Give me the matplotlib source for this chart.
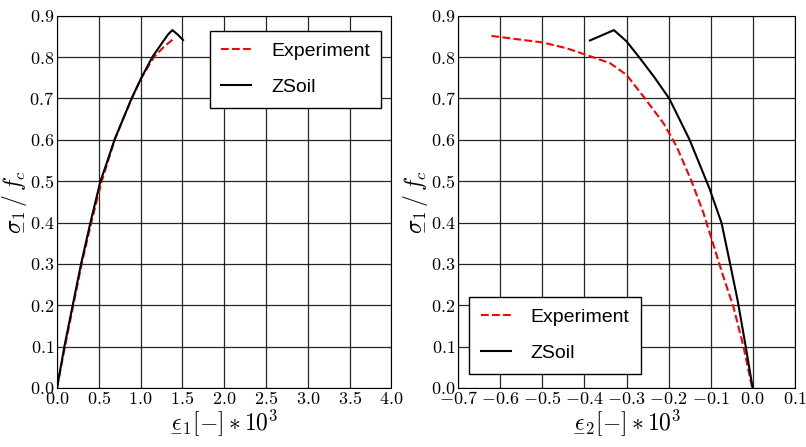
import matplotlib
matplotlib.use("Agg")
import matplotlib.pyplot as plt
from matplotlib.ticker import FuncFormatter, MultipleLocator

plt.rcParams['mathtext.fontset'] = 'cm'
plt.rcParams['font.family'] = ['Liberation Sans', 'DejaVu Sans']

# === Left panel: sigma_1/f_c vs eps_1 ===
exp1_x = [0.0, 0.095, 0.195, 0.295, 0.41, 0.535, 0.69, 0.79, 0.895, 1.01, 1.16, 1.28, 1.40]
exp1_y = [0.0, 0.10, 0.20, 0.30, 0.40, 0.50, 0.60, 0.65, 0.70, 0.75, 0.80, 0.825, 0.845]
zs1_x = [0.0, 0.088, 0.188, 0.288, 0.40, 0.52, 0.58, 0.688, 0.79, 0.892, 1.01, 1.14,
         1.26, 1.33, 1.38, 1.44, 1.508]
zs1_y = [0.0, 0.10, 0.20, 0.30, 0.40, 0.50, 0.535, 0.60, 0.65, 0.70, 0.75, 0.80,
         0.835, 0.855, 0.865, 0.855, 0.841]

# === Right panel: sigma_1/f_c vs eps_2 ===
exp2_x = [-0.621, -0.498, -0.442, -0.395, -0.339, -0.300, -0.260, -0.212, -0.181,
          -0.145, -0.117, -0.097, -0.070, -0.046, -0.022, -0.002]
exp2_y = [0.851, 0.835, 0.821, 0.805, 0.785, 0.757, 0.705, 0.640, 0.584,
          0.499, 0.423, 0.358, 0.270, 0.197, 0.101, 0.004]
zs2_x = [-0.387, -0.330, -0.300, -0.268, -0.233, -0.198, -0.150, -0.103, -0.074,
         -0.054, -0.036, -0.018, 0.0]
zs2_y = [0.840, 0.865, 0.838, 0.797, 0.750, 0.699, 0.600, 0.483, 0.399,
         0.302, 0.213, 0.109, 0.0]

fig = plt.figure(figsize=(8.06, 4.47), dpi=100)
ax1 = fig.add_axes([0.0707, 0.132, 0.415, 0.833])
ax2 = fig.add_axes([0.5686, 0.132, 0.4174, 0.833])

fmt = FuncFormatter(lambda v, p: r'$%.1f$' % v if abs(v) > 1e-9 else r'$0.0$')

ax1.plot(exp1_x, exp1_y, 'r--', lw=1.5, label='Experiment')
ax1.plot(zs1_x, zs1_y, 'k-', lw=1.5, label='ZSoil')
ax2.plot(exp2_x, exp2_y, 'r--', lw=1.5, label='Experiment')
ax2.plot(zs2_x, zs2_y, 'k-', lw=1.5, label='ZSoil')

ax1.set_xlim(0, 4.0)
ax1.xaxis.set_major_locator(MultipleLocator(0.5))
ax2.set_xlim(-0.7, 0.1)
ax2.xaxis.set_major_locator(MultipleLocator(0.1))

for ax in (ax1, ax2):
    ax.set_ylim(0, 0.9)
    ax.yaxis.set_major_locator(MultipleLocator(0.1))
    ax.xaxis.set_major_formatter(fmt)
    ax.yaxis.set_major_formatter(fmt)
    ax.grid(True, color='k', lw=0.9, alpha=0.85)
    ax.tick_params(direction='in', length=0, labelsize=13, pad=2)
    ax.set_ylabel(r'$\underset{-}{\sigma}_1\,/\,f_c$', fontsize=17, labelpad=2)

ax1.set_xlabel(r'$\underset{-}{\epsilon}_1[-]*10^3$', fontsize=17, labelpad=0)
ax2.set_xlabel(r'$\underset{-}{\epsilon}_2[-]*10^3$', fontsize=17, labelpad=0)

leg_kw = dict(fontsize=14, fancybox=False, edgecolor='k', framealpha=1,
              handlelength=1.55, handletextpad=1.0, borderpad=0.6,
              labelspacing=0.95, borderaxespad=0)
ax1.legend(loc='upper right', bbox_to_anchor=(0.970, 0.959), **leg_kw)
ax2.legend(loc='lower left', bbox_to_anchor=(0.033, 0.038), **leg_kw)

plt.savefig("out.png", dpi=100)
plt.close()
